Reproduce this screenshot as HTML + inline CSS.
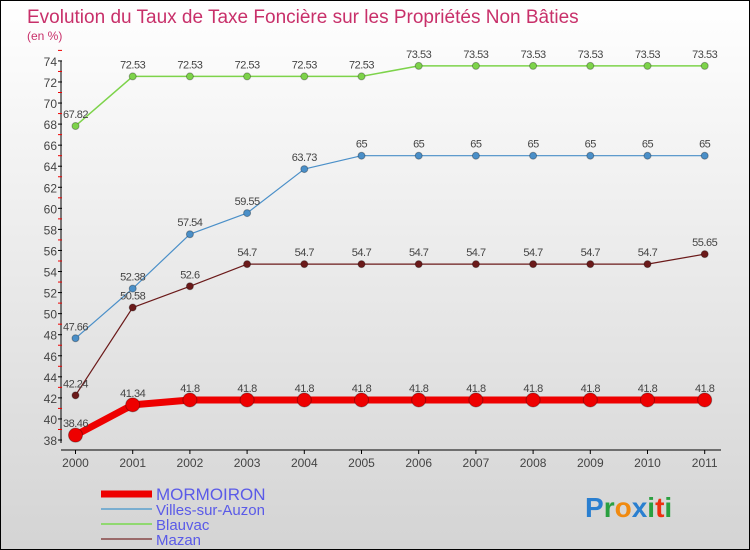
<!DOCTYPE html>
<html><head><meta charset="utf-8"><style>
body{margin:0}
#c{width:748px;height:548px;border:1px solid #000;background:linear-gradient(#fff,#d4d4d4);position:relative;overflow:hidden;font-family:"Liberation Sans",sans-serif}
</style></head><body>
<div id="c">
<svg id="s" width="748" height="548"></svg>
</div>
<script>
const years=[2000,2001,2002,2003,2004,2005,2006,2007,2008,2009,2010,2011];
const mormoiron=[38.46,41.34,41.8,41.8,41.8,41.8,41.8,41.8,41.8,41.8,41.8,41.8];
const villes=[47.66,52.38,57.54,59.55,63.73,65,65,65,65,65,65,65];
const blauvac=[67.82,72.53,72.53,72.53,72.53,72.53,73.53,73.53,73.53,73.53,73.53,73.53];
const mazan=[42.24,50.58,52.6,54.7,54.7,54.7,54.7,54.7,54.7,54.7,54.7,55.65];
const yTicks=[38,40,42,44,46,48,50,52,54,56,58,60,62,64,66,68,70,72,74];
const s=document.getElementById('s');const NS='http://www.w3.org/2000/svg';
function el(t,a,p){const e=document.createElementNS(NS,t);for(const k in a)e.setAttribute(k,a[k]);(p||s).appendChild(e);return e;}
const X=i=>74.5+i*57.2, Y=v=>439-(v-38)*10.53;
let t=el('text',{x:26,y:22,'font-size':19,fill:'#c8306a'});t.textContent='Evolution du Taux de Taxe Foncière sur les Propriétés Non Bâties';

t=el('text',{x:26,y:39,'font-size':12,fill:'#c8306a'});t.textContent='(en %)';

let a=el('line',{x1:60,y1:Y(74),x2:60,y2:Y(38)+3,stroke:'#000'});
a=el('line',{x1:60,y1:449,x2:720,y2:449,stroke:'#000'});
yTicks.forEach(v=>{el('line',{x1:57,x2:61,y1:Y(v),y2:Y(v),stroke:'#000'});el('line',{x1:57,x2:61,y1:Y(v+1),y2:Y(v+1),stroke:'#e00'});
 const l=el('text',{x:56,y:Y(v)+5,'font-size':12,fill:'#444','text-anchor':'end'});l.textContent=v;
 });
years.forEach((y,i)=>{el('line',{x1:X(i),x2:X(i),y1:449,y2:453,stroke:'#000'});
 const l=el('text',{x:X(i),y:466,'font-size':12,fill:'#444','text-anchor':'middle'});l.textContent=y;
 });
function series(d,col,w,r,name){const g=el('g',{});
 el('polyline',{points:d.map((v,i)=>X(i)+','+Y(v)).join(' '),fill:'none',stroke:col,'stroke-width':w,'stroke-linejoin':'round'},g);
 d.forEach((v,i)=>{const c=el('circle',{cx:X(i),cy:Y(v),r:r,fill:col,stroke:'rgba(0,0,0,0.3)'},g);
  const l=el('text',{x:X(i),y:Y(v)-8,'font-size':11,fill:'#444','text-anchor':'middle','letter-spacing':'-0.5'},g);l.textContent=v;
  });}
series(blauvac,'#7dd34a',1.5,3.5,'blauvac');
series(villes,'#4a8fc8',1.2,3.5,'villes-sur-auzon');
series(mazan,'#6b1a1a',1.2,3.5,'mazan');
series(mormoiron,'#ee0000',7,7,'mormoiron');
const leg=[['MORMOIRON','#ee0000',7],['Villes-sur-Auzon','#7aaed0',2],['Blauvac','#90d870',2],['Mazan','#9a6a6a',2]];
leg.forEach((e,i)=>{const y=493+i*15;const g=el('g',{});
 el('line',{x1:100,x2:151,y1:y,y2:y,stroke:e[1],'stroke-width':e[2]},g);
 const l=el('text',{x:155,y:y+6,'font-size':i?15:17,fill:'#5a5ae8'},g);l.textContent=e[0];});
const lg=el('text',{x:584,y:516,'font-size':28,'font-weight':'bold'});
[['P','#2a7fd0'],['r','#2aa040'],['o','#f08a10'],['x','#2a7fd0'],['i','#2aa040'],['t','#ee3010'],['i','#2aa040']].forEach(c=>{const ts=el('tspan',{fill:c[1]},lg);ts.textContent=c[0];});
</script>
</body></html>
